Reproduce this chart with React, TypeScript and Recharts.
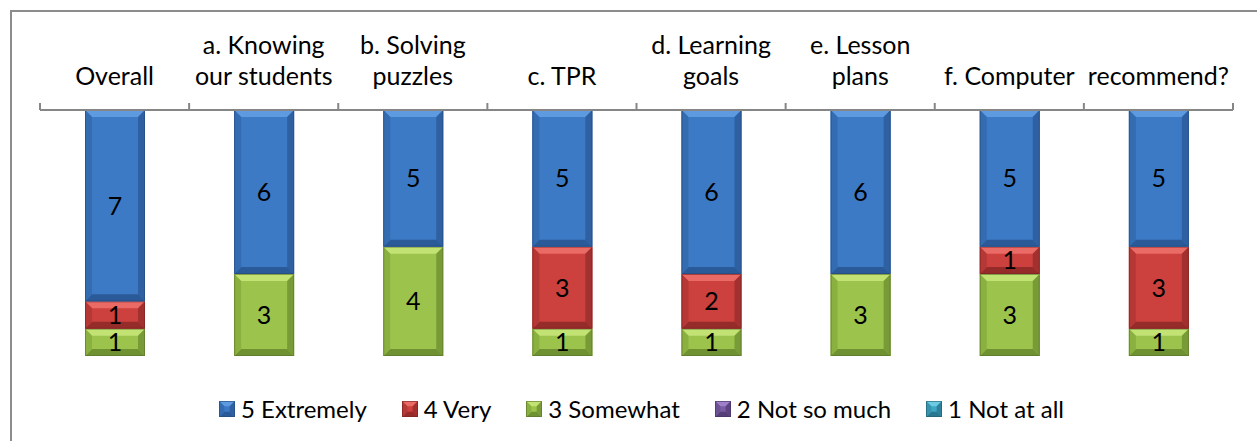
import React from "react";
import { Bar, BarChart, LabelList, Legend, XAxis, YAxis } from "recharts";

const categories = [
  "Overall",
  "a. Knowing\nour students",
  "b. Solving\npuzzles",
  "c. TPR",
  "d. Learning\ngoals",
  "e. Lesson\nplans",
  "f. Computer",
  "recommend?",
];

const extremely = [7, 6, 5, 5, 6, 6, 5, 5];
const very = [1, 0, 0, 3, 2, 0, 1, 3];
const somewhat = [1, 3, 4, 1, 1, 3, 3, 1];
const notSoMuch = [0, 0, 0, 0, 0, 0, 0, 0];
const notAtAll = [0, 0, 0, 0, 0, 0, 0, 0];

const data = categories.map((name, i) => ({
  name,
  extremely: extremely[i],
  very: very[i],
  somewhat: somewhat[i],
  notSoMuch: notSoMuch[i],
  notAtAll: notAtAll[i],
}));

const W = 1257;
const H = 441;
const MARGIN = { top: 10, right: 24, left: 40, bottom: 85 };
const AXIS_H = 100;
const PLOT_TOP = MARGIN.top + AXIS_H;
const BAND = (W - MARGIN.left - MARGIN.right) / categories.length;
const FONT = "Lato, 'Open Sans', sans-serif";
const AXIS_COLOR = "#868686";

type Tone = { main: string; light: string; dark: string; side: string; edge: string };

const tones: Record<string, Tone> = {
  extremely: { main: "#3c7ac6", light: "#5e9ae0", dark: "#2b5a98", side: "#346cb2", edge: "#24497c" },
  very: { main: "#cc403d", light: "#ea6a66", dark: "#962c2a", side: "#b53836", edge: "#7a2221" },
  somewhat: { main: "#9cc44c", light: "#c2e274", dark: "#6f9132", side: "#8ab040", edge: "#56722a" },
  notSoMuch: { main: "#7b5ca6", light: "#9d80c8", dark: "#563f78", side: "#6c5194", edge: "#45325f" },
  notAtAll: { main: "#3fa6c4", light: "#6ccae2", dark: "#2a7890", side: "#3694ae", edge: "#215e70" },
};

const series = [
  { key: "notAtAll", name: "1 Not at all" },
  { key: "notSoMuch", name: "2 Not so much" },
  { key: "somewhat", name: "3 Somewhat" },
  { key: "very", name: "4 Very" },
  { key: "extremely", name: "5 Extremely" },
];

function Bevel({ x, y, width, height, tone }: { x: number; y: number; width: number; height: number; tone: Tone }) {
  if (!height || height <= 0) return null;
  const b = Math.min(7, height / 3, width / 3);
  const x2 = x + width;
  const y2 = y + height;
  return (
    <g>
      <rect x={x} y={y} width={width} height={height} fill={tone.main} />
      <polygon points={`${x},${y} ${x2},${y} ${x2 - b},${y + b} ${x + b},${y + b}`} fill={tone.light} />
      <polygon points={`${x},${y2} ${x2},${y2} ${x2 - b},${y2 - b} ${x + b},${y2 - b}`} fill={tone.dark} />
      <polygon points={`${x},${y} ${x + b},${y + b} ${x + b},${y2 - b} ${x},${y2}`} fill={tone.side} />
      <polygon points={`${x2},${y} ${x2 - b},${y + b} ${x2 - b},${y2 - b} ${x2},${y2}`} fill={tone.dark} opacity={0.8} />
      <rect x={x + 0.5} y={y + 0.5} width={width - 1} height={height - 1} fill="none" stroke={tone.edge} strokeWidth={1} opacity={0.6} />
    </g>
  );
}

function CategoryTick(props: any) {
  const { x, payload, index } = props;
  const lines = String(payload.value).split("\n");
  const left = x - BAND / 2;
  return (
    <g>
      <line x1={left} x2={left} y1={PLOT_TOP - 7} y2={PLOT_TOP} stroke={AXIS_COLOR} strokeWidth={2} />
      {index === categories.length - 1 && (
        <line x1={left + BAND} x2={left + BAND} y1={PLOT_TOP - 7} y2={PLOT_TOP} stroke={AXIS_COLOR} strokeWidth={2} />
      )}
      {lines.map((line, i) => (
        <text
          key={i}
          x={x}
          y={PLOT_TOP - 35 - (lines.length - 1 - i) * 31}
          textAnchor="middle"
          dominantBaseline="central"
          fontFamily={FONT}
          fontSize={25}
          fill="#000"
        >
          {line}
        </text>
      ))}
    </g>
  );
}

function LegendContent() {
  const order = [...series].reverse();
  return (
    <div style={{ display: "flex", justifyContent: "center", alignItems: "center", fontFamily: FONT, fontSize: 24, color: "#000" }}>
      {order.map((s, i) => (
        <div key={s.key} style={{ display: "flex", alignItems: "center", marginLeft: i === 0 ? 0 : 35 }}>
          <svg width={16} height={16} style={{ marginRight: 6 }}>
            <Bevel x={0} y={0} width={16} height={16} tone={tones[s.key]} />
          </svg>
          <span style={{ lineHeight: "30px" }}>{s.name}</span>
        </div>
      ))}
    </div>
  );
}

export default function App() {
  return (
    <div style={{ position: "absolute", left: 0, top: 0, width: W, height: H, overflow: "hidden", background: "#fff" }}>
      <div
        style={{
          position: "absolute",
          left: 10,
          top: 10,
          width: W + 40,
          height: H + 40,
          borderTop: "2px solid #8c8c8c",
          borderLeft: "2px solid #8c8c8c",
        }}
      />
      <BarChart width={W} height={H} data={data} margin={MARGIN} barSize={60}>
        <XAxis
          dataKey="name"
          orientation="top"
          height={AXIS_H}
          interval={0}
          tickLine={false}
          axisLine={{ stroke: AXIS_COLOR, strokeWidth: 2 }}
          tick={<CategoryTick />}
        />
        <YAxis hide domain={[0, 9]} />
        <Legend
          layout="horizontal"
          verticalAlign="middle"
          align="center"
          content={<LegendContent />}
          wrapperStyle={{ top: 394, left: 26, width: 1231 }}
        />
        {series.map((s) => (
          <Bar
            key={s.key}
            dataKey={s.key}
            name={s.name}
            stackId="a"
            fill={tones[s.key].main}
            isAnimationActive={false}
            shape={(p: any) => <Bevel x={p.x} y={p.y} width={p.width} height={p.height} tone={tones[s.key]} />}
          >
            <LabelList
              dataKey={s.key}
              position="center"
              formatter={(v: any) => (v ? v : "")}
              fill="#000"
              fontFamily={FONT}
              fontSize={25}
            />
          </Bar>
        ))}
      </BarChart>
    </div>
  );
}
